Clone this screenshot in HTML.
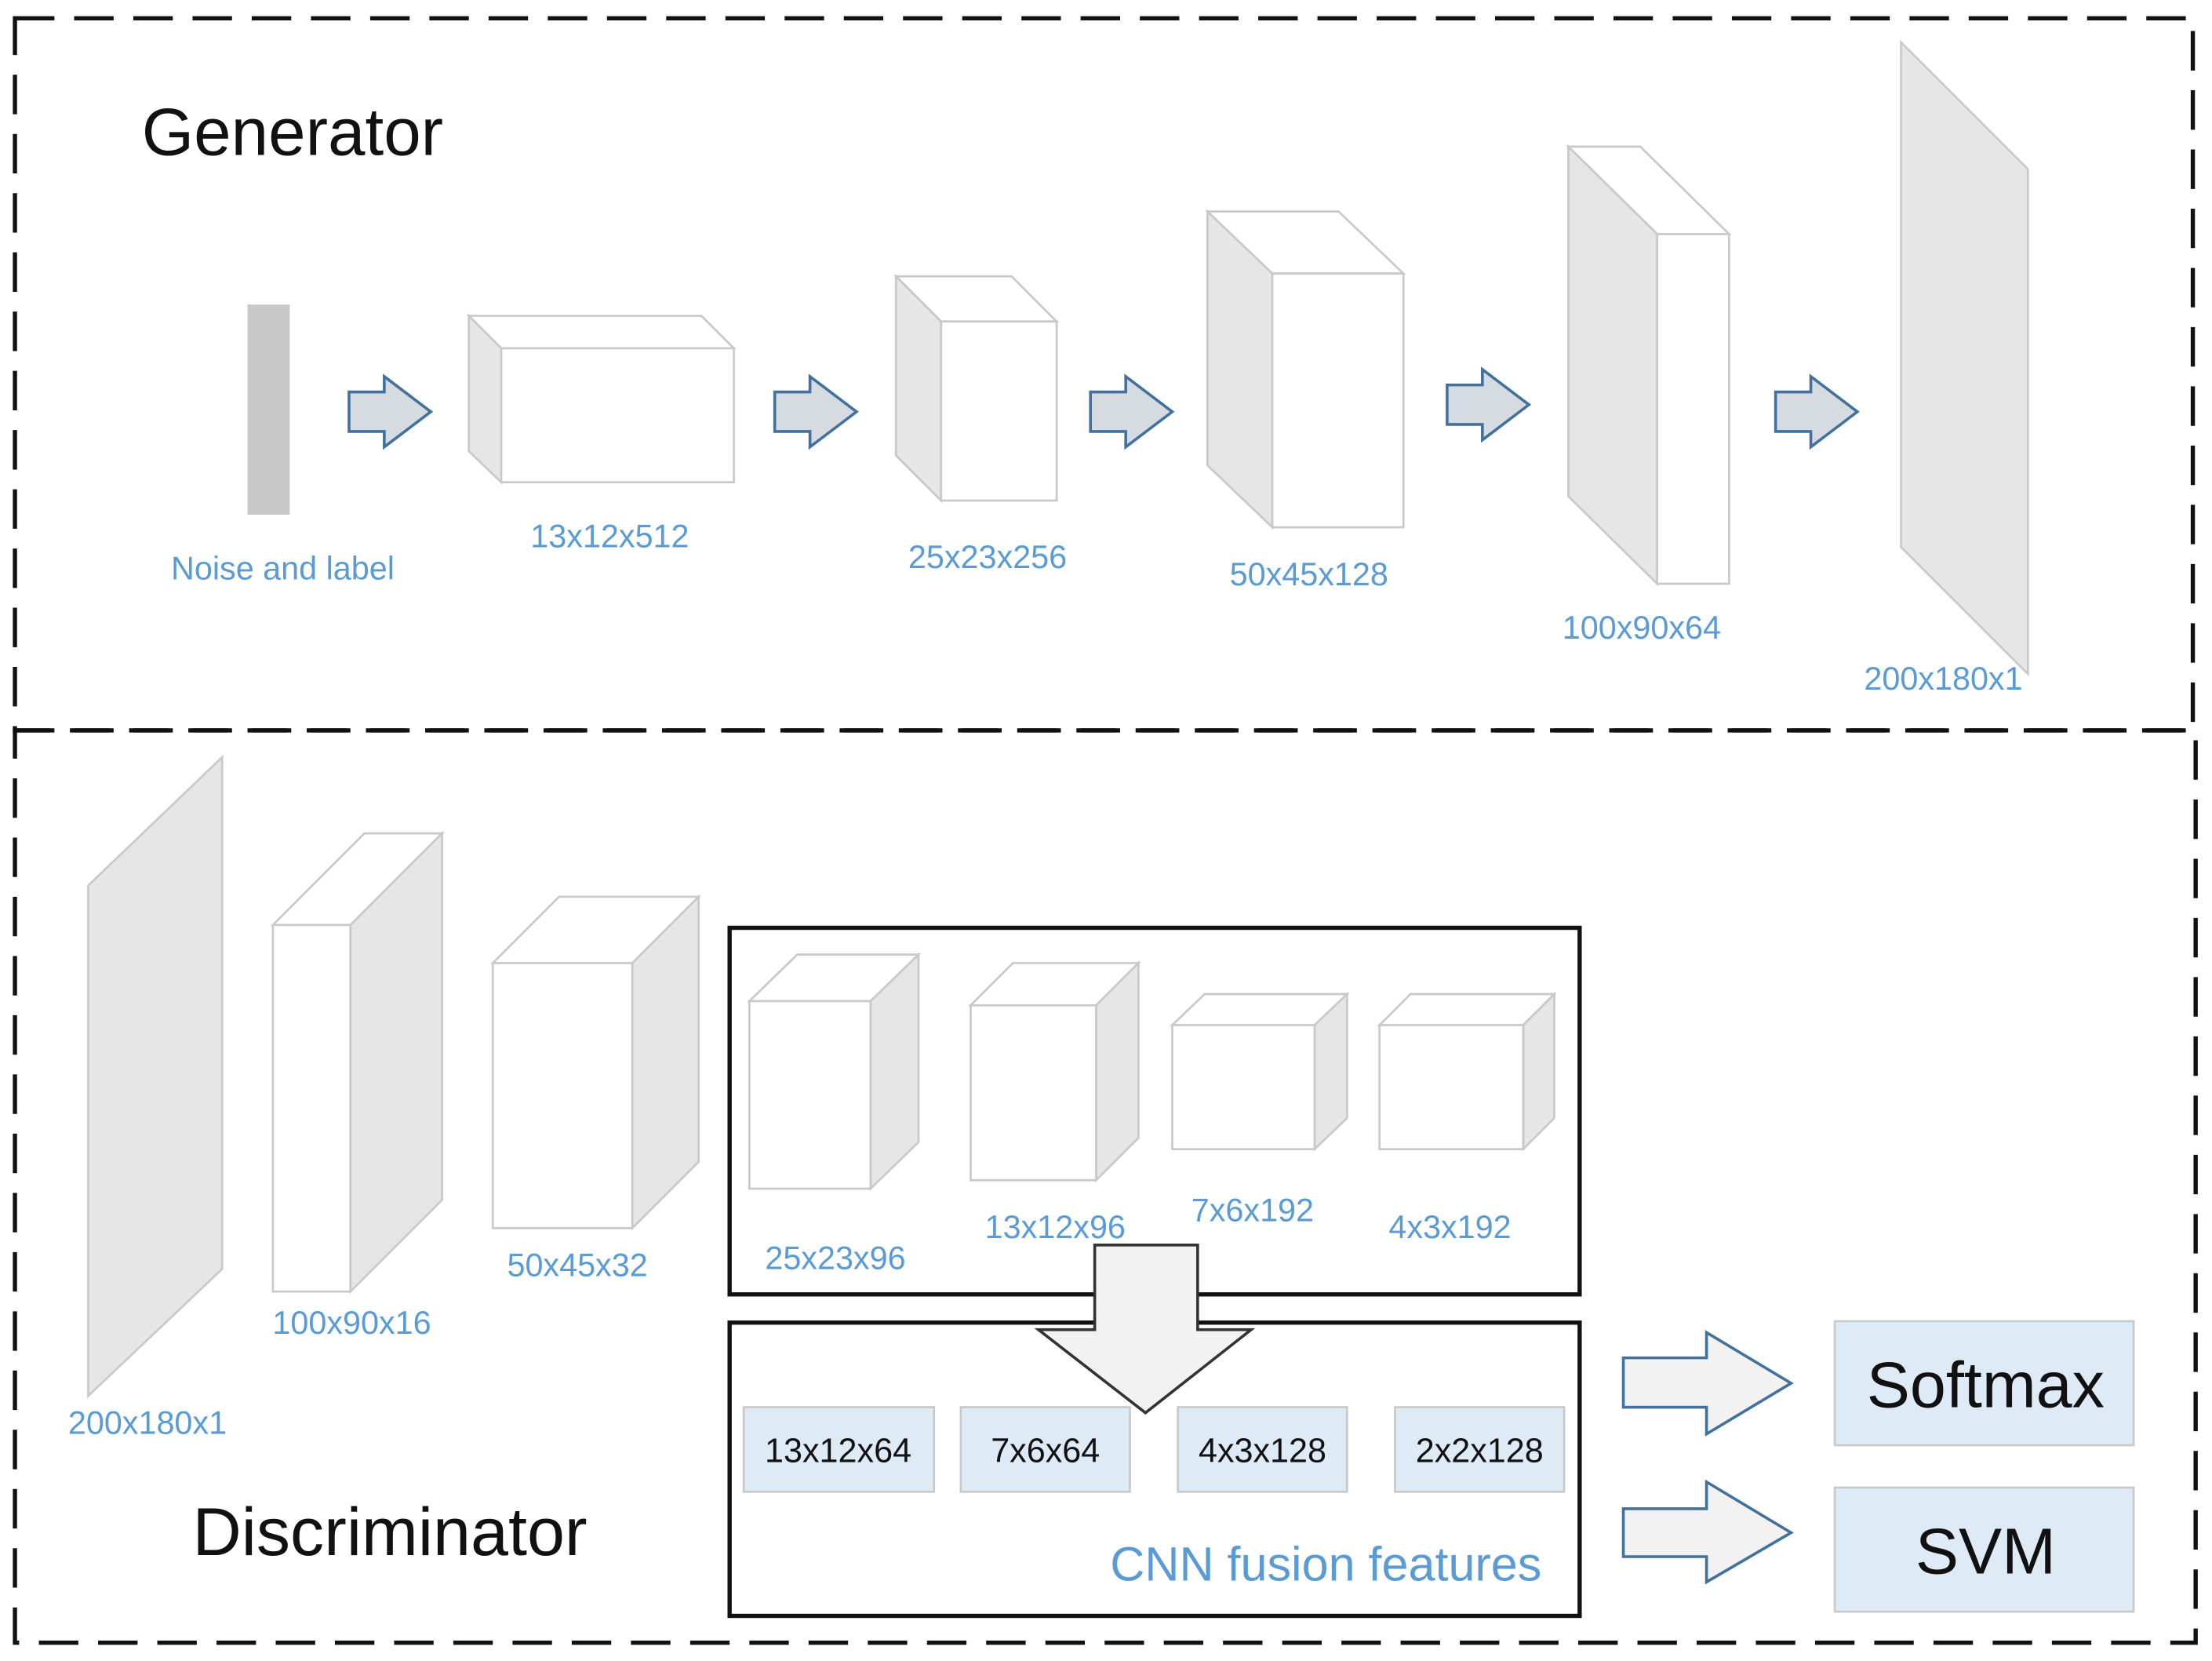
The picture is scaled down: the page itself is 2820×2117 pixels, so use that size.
<!DOCTYPE html>
<html><head><meta charset="utf-8"><style>html,body{margin:0;padding:0;background:#fff}svg{display:block}</style></head>
<body>
<svg width="2820" height="2117" viewBox="0 0 1568 1178" xmlns="http://www.w3.org/2000/svg" font-family="Liberation Sans, sans-serif">
<defs>
<g id="arr"><polygon points="0,-14 25,-14 25,-25 58,0 25,25 25,14 0,14" fill="#d6dbe2" stroke="#41719c" stroke-width="2"/></g>
</defs>
<rect width="1568" height="1178" fill="#fff"/>
<g fill="none" stroke="#111" stroke-width="3" stroke-dasharray="28,14">
<rect x="10" y="13" width="1545" height="505"/>
<rect x="10" y="518" width="1547" height="647"/>
</g>
<text x="100" y="110" font-size="47.5" fill="#111">Generator</text>
<text x="136" y="1103" font-size="48" fill="#111">Discriminator</text>

<g stroke="#c9c9c9" stroke-width="1.5">
<rect x="175" y="216" width="30" height="149" fill="#c8c8c8" stroke="none"/>
<polygon points="332,224 497,224 520,247 355,247" fill="#fff"/>
<polygon points="332,224 355,247 355,342 332,320" fill="#e6e6e6"/>
<rect x="355" y="247" width="165" height="95" fill="#fff"/>

<polygon points="635,196 717,196 749,228 667,228" fill="#fff"/>
<polygon points="635,196 667,228 667,355 635,323" fill="#e6e6e6"/>
<rect x="667" y="228" width="82" height="127" fill="#fff"/>

<polygon points="856,150 949,150 995,194 902,194" fill="#fff"/>
<polygon points="856,150 902,194 902,374 856,330" fill="#e6e6e6"/>
<rect x="902" y="194" width="93" height="180" fill="#fff"/>

<polygon points="1112,104 1163,104 1226,166 1175,166" fill="#fff"/>
<polygon points="1112,104 1175,166 1175,414 1112,352" fill="#e6e6e6"/>
<rect x="1175" y="166" width="51" height="248" fill="#fff"/>

<polygon points="1348,30 1438,120 1438,478 1348,388" fill="#e6e6e6"/>

<polygon points="62,628 157,537 157,900 62,990" fill="#e6e6e6"/>
<polygon points="193,656 258,591 313,591 248,656" fill="#fff"/>
<polygon points="248,656 313,591 313,851 248,916" fill="#e6e6e6"/>
<rect x="193" y="656" width="55" height="260" fill="#fff"/>

<polygon points="349,683 396,636 495,636 448,683" fill="#fff"/>
<polygon points="448,683 495,636 495,824 448,871" fill="#e6e6e6"/>
<rect x="349" y="683" width="99" height="188" fill="#fff"/>

<polygon points="531,710 565,677 651,677 617,710" fill="#fff"/>
<polygon points="617,710 651,677 651,810 617,843" fill="#e6e6e6"/>
<rect x="531" y="710" width="86" height="133" fill="#fff"/>

<polygon points="688,713 718,683 807,683 777,713" fill="#fff"/>
<polygon points="777,713 807,683 807,807 777,837" fill="#e6e6e6"/>
<rect x="688" y="713" width="89" height="124" fill="#fff"/>

<polygon points="831,727 854,705 955,705 932,727" fill="#fff"/>
<polygon points="932,727 955,705 955,793 932,815" fill="#e6e6e6"/>
<rect x="831" y="727" width="101" height="88" fill="#fff"/>

<polygon points="978,727 1000,705 1102,705 1080,727" fill="#fff"/>
<polygon points="1080,727 1102,705 1102,793 1080,815" fill="#e6e6e6"/>
<rect x="978" y="727" width="102" height="88" fill="#fff"/>

<rect x="527" y="998" width="135" height="60" fill="#deebf7"/>
<rect x="681" y="998" width="120" height="60" fill="#deebf7"/>
<rect x="835" y="998" width="120" height="60" fill="#deebf7"/>
<rect x="989" y="998" width="120" height="60" fill="#deebf7"/>
<rect x="1301" y="937" width="212" height="88" fill="#deebf7"/>
<rect x="1301" y="1055" width="212" height="88" fill="#deebf7"/>
</g>

<use href="#arr" x="247" y="292"/>
<use href="#arr" x="549" y="292"/>
<use href="#arr" x="773" y="292"/>
<use href="#arr" x="1026" y="287"/>
<use href="#arr" x="1259" y="292"/>

<g fill="#5b9bd5" font-size="23" text-anchor="middle">
<text x="200" y="411">Noise and label</text>
<text x="432" y="388">13x12x512</text>
<text x="700" y="403">25x23x256</text>
<text x="928" y="415">50x45x128</text>
<text x="1164" y="453">100x90x64</text>
<text x="1378" y="489">200x180x1</text>
<text x="104" y="1017">200x180x1</text>
<text x="249" y="946">100x90x16</text>
<text x="409" y="905">50x45x32</text>
<text x="592" y="900">25x23x96</text>
<text x="748" y="878">13x12x96</text>
<text x="888" y="866">7x6x192</text>
<text x="1028" y="878">4x3x192</text>
</g>

<rect x="517" y="658" width="603" height="260" fill="none" stroke="#111" stroke-width="3"/>
<rect x="517" y="938" width="603" height="208" fill="none" stroke="#111" stroke-width="3"/>

<polygon points="776,883 849,883 849,943 887,943 812,1002 736,943 776,943" fill="#f2f2f2" stroke="#333" stroke-width="2"/>

<g font-size="24" fill="#111" text-anchor="middle">
<text x="594" y="1037">13x12x64</text>
<text x="741" y="1037">7x6x64</text>
<text x="895" y="1037">4x3x128</text>
<text x="1049" y="1037">2x2x128</text>
</g>
<text x="1093" y="1121" font-size="34" fill="#5b9bd5" text-anchor="end">CNN fusion features</text>

<polygon points="1151,963 1210,963 1210,945 1270,981 1210,1017 1210,998 1151,998" fill="#f2f2f2" stroke="#41719c" stroke-width="2"/>
<polygon points="1151,1070 1210,1070 1210,1051 1270,1087 1210,1122 1210,1104 1151,1104" fill="#f2f2f2" stroke="#41719c" stroke-width="2"/>

<g font-size="46" fill="#111" text-anchor="middle">
<text x="1408" y="998">Softmax</text>
<text x="1408" y="1116">SVM</text>
</g>
</svg>
</body></html>
